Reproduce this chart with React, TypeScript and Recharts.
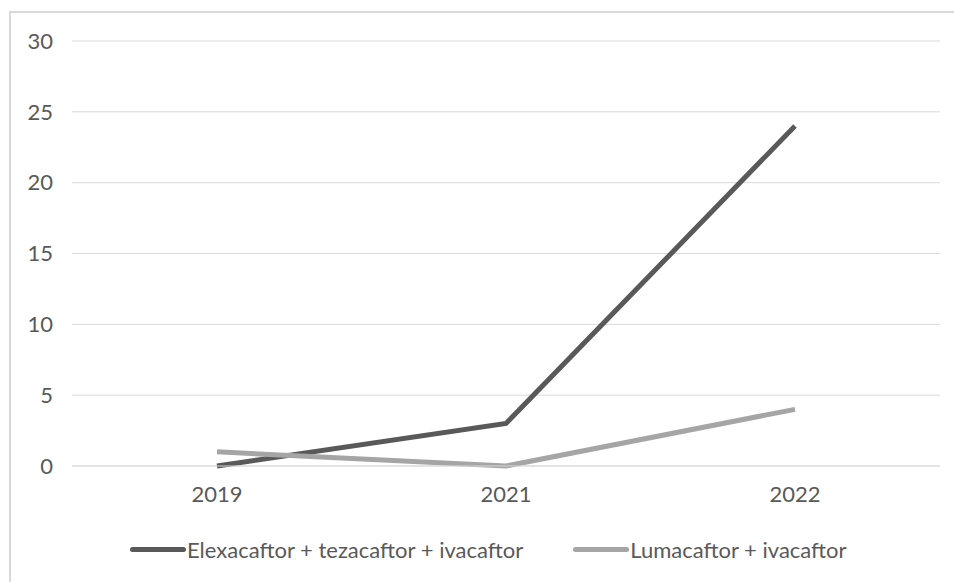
import { CartesianGrid, Line, LineChart, XAxis, YAxis } from 'recharts';

const years = ['2019', '2021', '2022'];
const elexacaftor = [0, 3, 24];
const lumacaftor = [1, 0, 4];
const yTicks = [0, 5, 10, 15, 20, 25, 30];

const series = [
  { key: 'elexa', name: 'Elexacaftor + tezacaftor + ivacaftor', color: '#595959' },
  { key: 'luma', name: 'Lumacaftor + ivacaftor', color: '#a5a5a5' },
];

const data = years.map((year, i) => ({
  year,
  elexa: elexacaftor[i],
  luma: lumacaftor[i],
}));

const font = 'Lato, "Open Sans", sans-serif';
const textColor = '#595959';

function ChartLegend() {
  return (
    <div
      style={{
        position: 'absolute',
        left: 130,
        top: 535,
        height: 28,
        display: 'flex',
        alignItems: 'center',
        gap: 50,
        fontFamily: font,
        fontSize: 22,
        color: textColor,
        whiteSpace: 'nowrap',
      }}
    >
      {series.map((s) => (
        <div key={s.key} style={{ display: 'flex', alignItems: 'center' }}>
          <span
            style={{
              display: 'inline-block',
              width: 56,
              height: 5,
              borderRadius: 3,
              background: s.color,
              marginRight: 1,
            }}
          />
          <span>{s.name}</span>
        </div>
      ))}
    </div>
  );
}

export default function App() {
  return (
    <div
      style={{
        position: 'absolute',
        left: 0,
        top: 0,
        width: 954,
        height: 582,
        overflow: 'hidden',
        background: '#fff',
      }}
    >
      <div
        style={{
          position: 'absolute',
          left: 9,
          top: 11,
          width: 980,
          height: 600,
          border: '2px solid #d9d9d9',
        }}
      />
      <div style={{ position: 'absolute', left: 0, top: 0 }}>
        <LineChart
          width={954}
          height={582}
          data={data}
          margin={{ top: 41, right: 14, bottom: 86, left: 0 }}
        >
          <CartesianGrid vertical={false} stroke="#d9d9d9" strokeWidth={1} />
          <XAxis
            dataKey="year"
            height={30}
            padding={{ left: 145, right: 145 }}
            axisLine={{ stroke: '#d9d9d9' }}
            tickLine={false}
            tickSize={0}
            tickMargin={20}
            tick={{ fill: textColor, fontSize: 22, fontFamily: font }}
          />
          <YAxis
            width={72}
            domain={[0, 30]}
            ticks={yTicks}
            axisLine={false}
            tickLine={false}
            tickSize={0}
            tickMargin={19}
            tick={{ fill: textColor, fontSize: 22, fontFamily: font }}
          />
          {series.map((s) => (
            <Line
              key={s.key}
              dataKey={s.key}
              name={s.name}
              type="linear"
              stroke={s.color}
              strokeWidth={5}
              dot={false}
              activeDot={false}
              isAnimationActive={false}
            />
          ))}
        </LineChart>
      </div>
      <ChartLegend />
    </div>
  );
}
